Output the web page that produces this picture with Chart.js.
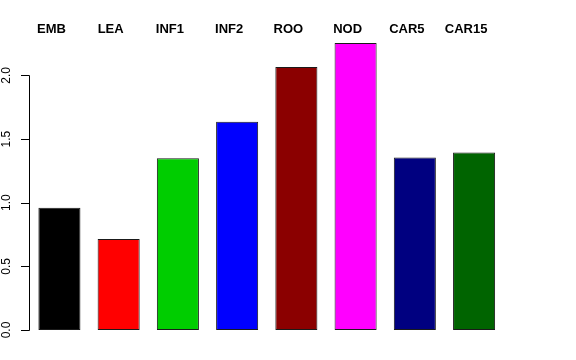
<!DOCTYPE html>
<html>
<head>
<meta charset="utf-8">
<script src="https://cdn.jsdelivr.net/npm/chart.js"></script>
<style>
    html, body { margin: 0; padding: 0; background: #fff; }
    #chart { display: block; }
</style>
</head>
<body>
<canvas id="chart" width="576" height="360"></canvas>
<script>
// Data
const categories = ['EMB', 'LEA', 'INF1', 'INF2', 'ROO', 'NOD', 'CAR5', 'CAR15'];
const values = [0.96, 0.715, 1.35, 1.635, 2.065, 2.255, 1.355, 1.395];
const barColors = ['#000000', '#FF0000', '#00CD00', '#0000FF', '#8B0000', '#FF00FF', '#000080', '#006400'];
const yTicks = [0, 0.5, 1.0, 1.5, 2.0];
const yTickLabels = ['0.0', '0.5', '1.0', '1.5', '2.0'];

// Custom R-style axis and top labels
const rStylePlugin = {
    id: 'rStyle',
    afterDraw(chart) {
        const ctx = chart.ctx;
        const yScale = chart.scales.y;
        const axisX = 29.5;
        const yTop = yScale.getPixelForValue(yTicks[yTicks.length - 1]);
        const yBottom = yScale.getPixelForValue(yTicks[0]);

        ctx.save();
        ctx.strokeStyle = '#000';
        ctx.lineWidth = 1;
        ctx.beginPath();
        ctx.moveTo(axisX, Math.round(yTop) + 0.5);
        ctx.lineTo(axisX, Math.round(yBottom) + 0.5);
        yTicks.forEach(function(t) {
            const py = Math.round(yScale.getPixelForValue(t)) + 0.5;
            ctx.moveTo(axisX, py);
            ctx.lineTo(21, py);
        });
        ctx.stroke();

        // rotated tick labels
        ctx.fillStyle = '#000';
        ctx.font = '12px "Liberation Sans", Arial, sans-serif';
        ctx.textAlign = 'center';
        ctx.textBaseline = 'middle';
        yTicks.forEach(function(t, i) {
            const py = yScale.getPixelForValue(t);
            ctx.save();
            ctx.translate(6.5, py);
            ctx.rotate(-Math.PI / 2);
            ctx.fillText(yTickLabels[i], 0, 0);
            ctx.restore();
        });

        // bold labels above the bars, a little left of each bar centre
        const meta = chart.getDatasetMeta(0);
        ctx.font = 'bold 13px "Liberation Sans", Arial, sans-serif';
        ctx.textAlign = 'center';
        ctx.textBaseline = 'alphabetic';
        meta.data.forEach(function(bar, i) {
            ctx.fillText(categories[i], bar.x - 8, 33);
        });
        ctx.restore();
    }
};

const ctx = document.getElementById('chart').getContext('2d');
const chart = new Chart(ctx, {
    type: 'bar',
    data: {
        labels: categories,
        datasets: [{
            data: values,
            backgroundColor: barColors,
            borderColor: '#1a1a1a',
            borderWidth: 1,
            borderSkipped: false,
            barPercentage: 0.71,
            categoryPercentage: 1.0
        }]
    },
    options: {
        responsive: false,
        animation: false,
        layout: {
            padding: { left: 29.8, right: 72.3, top: 37.2, bottom: 30 }
        },
        plugins: {
            legend: { display: false },
            tooltip: { enabled: false }
        },
        scales: {
            x: { display: false },
            y: { display: false, min: 0, max: 2.3 }
        }
    },
    plugins: [rStylePlugin]
});
</script>
</body>
</html>
